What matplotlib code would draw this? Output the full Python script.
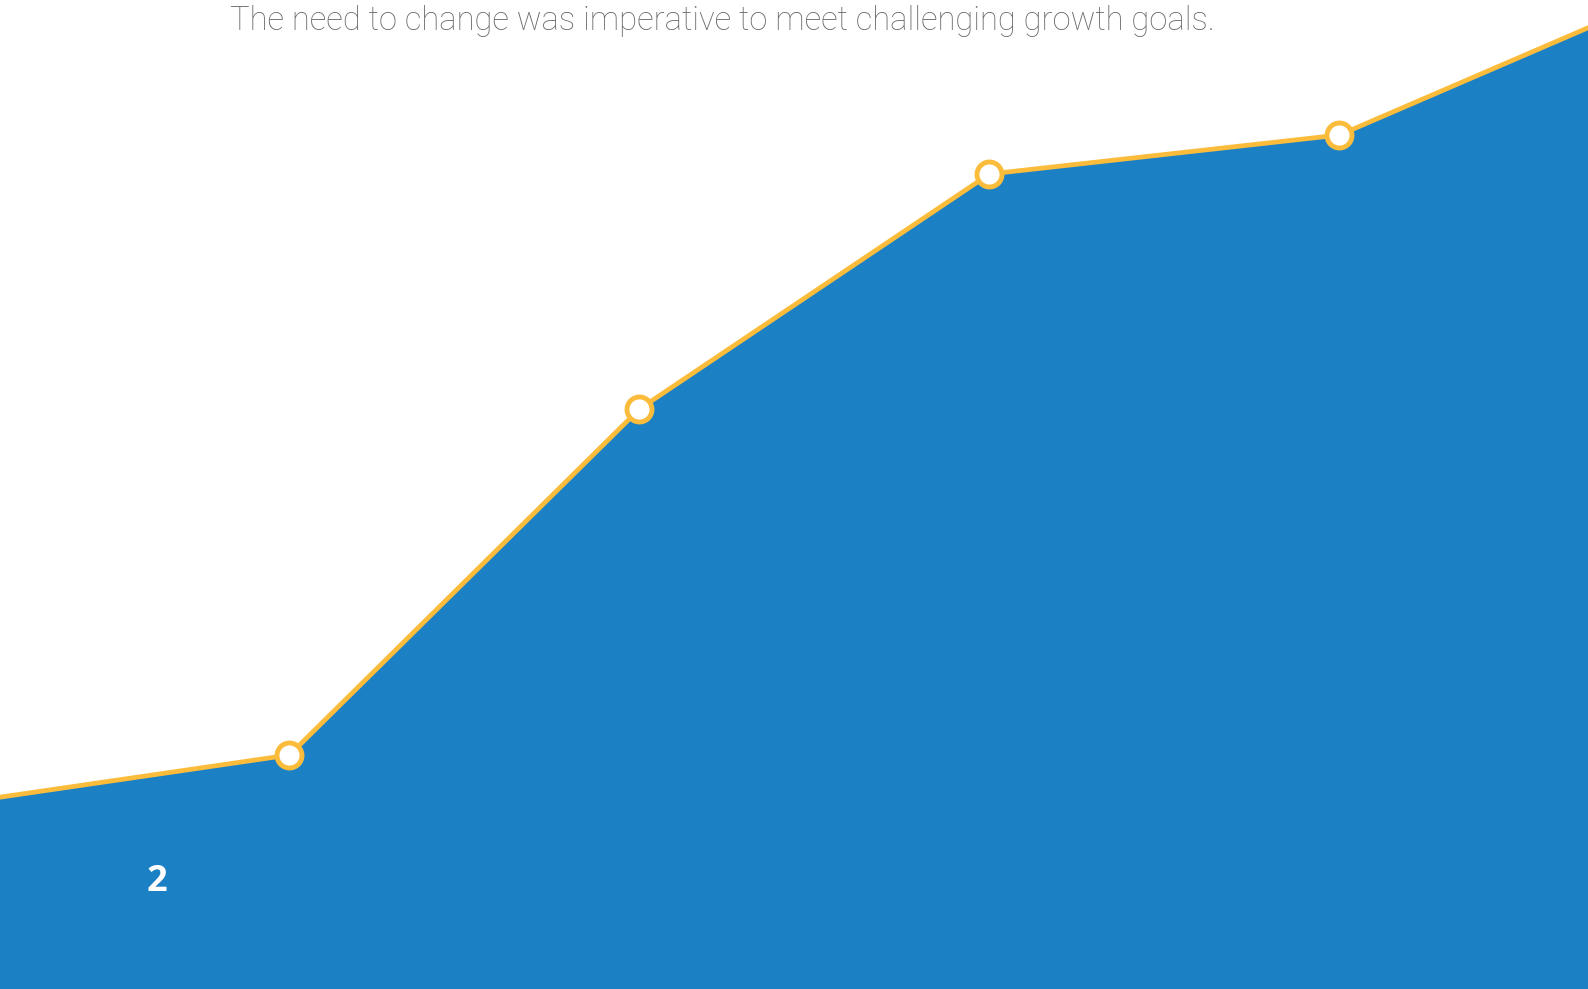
import numpy as np
import matplotlib.pyplot as plt

# area chart, values (arbitrary units)
steps = [0, 1, 2, 3, 4, 5]
values = [183, 234, 580, 815, 854, 1005]
title = "The need to change was imperative to meet challenging growth goals."
label = "2"

blue = "#1C80C4"
yellow = "#FBBC3C"

fig = plt.figure(figsize=(15.88, 9.89), dpi=100)
ax = fig.add_axes([0, 0, 1, 1])

ax.fill_between(steps, values, 0, color=blue, linewidth=0, zorder=1)
ax.plot(steps, values, color=yellow, lw=3.4, zorder=2,
        marker="o", markersize=18, markerfacecolor="white",
        markeredgecolor=yellow, markeredgewidth=3.5, clip_on=True)

ax.set_xlim(0.173, 4.71)
ax.set_ylim(0, 989)
ax.axis("off")

fig.text(0.455, 0.979, title, ha="center", va="center", fontsize=23.6,
         color="#6a6a6a", family=["Roboto", "DejaVu Sans"], weight="light")
fig.text(0.099, 0.108, label, ha="center", va="center", fontsize=26,
         color="white", family=["Open Sans", "DejaVu Sans"], weight="bold")

fig.savefig("out.png", dpi=100, facecolor="white")
